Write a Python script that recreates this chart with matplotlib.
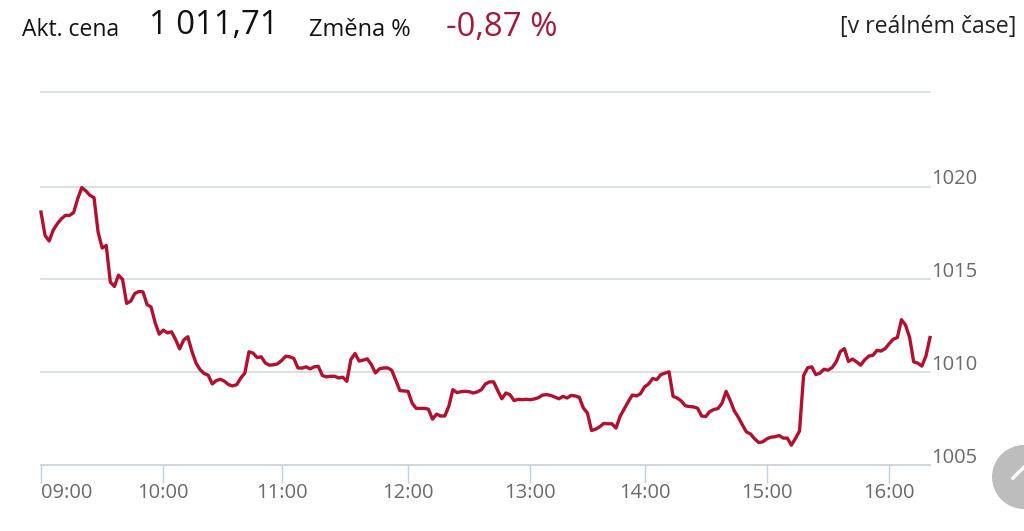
import matplotlib
matplotlib.use('Agg')
import matplotlib.pyplot as plt
from matplotlib.patches import Circle
from matplotlib.transforms import ScaledTranslation
import numpy as np

plt.rcParams['font.family'] = ['Open Sans', 'DejaVu Sans']

# Ceny po hodinach
ceny_rano = [
    1018.63, 1017.37, 1017.07, 1017.66, 1018.00, 1018.27, 1018.45, 1018.45, 1018.60, 1019.35,
    1019.95, 1019.77, 1019.53, 1019.41, 1017.55, 1016.69, 1016.83, 1014.86, 1014.62, 1015.23,
    1015.00, 1013.71, 1013.83, 1014.24, 1014.35, 1014.33, 1013.65, 1013.51, 1012.66, 1012.05,
    1012.27, 1012.12, 1012.18, 1011.76, 1011.26, 1011.74, 1011.91, 1011.13, 1010.50, 1010.14,
    1009.93, 1009.84, 1009.37, 1009.55, 1009.62, 1009.51, 1009.33, 1009.26, 1009.33, 1009.69,
    1009.96, 1011.10, 1011.03, 1010.79, 1010.83, 1010.50, 1010.38, 1010.40, 1010.45, 1010.63,
    1010.86, 1010.83, 1010.74, 1010.23, 1010.22, 1010.29, 1010.18, 1010.29, 1010.32, 1009.82,
    1009.75, 1009.78, 1009.78, 1009.69,
]
ceny_poledne = [
    1009.73, 1009.51, 1010.69, 1011.01, 1010.60, 1010.65, 1010.72, 1010.42, 1009.96, 1010.18,
    1010.23, 1010.23, 1010.11, 1009.57, 1009.01, 1008.99, 1008.97, 1008.34, 1008.05, 1008.05,
    1008.05, 1008.01, 1007.47, 1007.74, 1007.64, 1007.64, 1008.16, 1009.06, 1008.90, 1008.95,
    1008.97, 1008.95, 1008.88, 1008.94, 1009.06, 1009.37, 1009.48, 1009.48, 1009.01, 1008.57,
    1008.88, 1008.79, 1008.47, 1008.54, 1008.52, 1008.54, 1008.52, 1008.56, 1008.63, 1008.77,
    1008.79, 1008.75, 1008.66, 1008.57, 1008.70, 1008.61, 1008.75, 1008.72, 1008.65, 1008.07,
    1007.80, 1006.86, 1006.93, 1007.06, 1007.24, 1007.22, 1007.22, 1006.99, 1007.62, 1008.01,
    1008.41, 1008.77, 1008.72, 1008.84, 1009.21, 1009.37, 1009.66, 1009.60, 1009.87, 1009.95,
    1010.02, 1008.70, 1008.61,
]
ceny_odpoledne = [
    1008.45, 1008.19, 1008.15, 1008.13, 1008.06, 1007.64, 1007.61, 1007.88, 1007.99, 1008.04,
    1008.33, 1008.97, 1008.48, 1007.92, 1007.57, 1007.16, 1006.78, 1006.67, 1006.41, 1006.21,
    1006.25, 1006.41, 1006.50, 1006.52, 1006.59, 1006.45, 1006.45, 1006.07, 1006.43, 1006.83,
    1009.82, 1010.24, 1010.29, 1009.87, 1009.95, 1010.16, 1010.11, 1010.25, 1010.56, 1011.11,
    1011.27, 1010.58, 1010.71, 1010.56, 1010.38, 1010.67, 1010.87, 1010.91, 1011.18, 1011.14,
    1011.27, 1011.54, 1011.78, 1011.87, 1012.83, 1012.54, 1011.87, 1010.56, 1010.49, 1010.33,
    1010.87, 1011.87,
]
ceny = np.array(ceny_rano + ceny_poledne + ceny_odpoledne)

casy = ['09:00', '10:00', '11:00', '12:00', '13:00', '14:00', '15:00', '16:00']
casy_idx = [0, 30, 59, 90, 120, 148, 178, 208]
hladiny = [1005, 1010, 1015, 1020, 1025.1]
hladiny_text = ['1005', '1010', '1015', '1020', '']

W, H = 1024, 531
fig = plt.figure(figsize=(W / 100, H / 100), dpi=100)
ax = fig.add_axes([41 / W, 1 - 465 / H, (930 - 41) / W, (465 - 92) / H])

x = np.arange(len(ceny))
ax.plot(x, ceny, color='#b0112f', linewidth=2.4, solid_joinstyle='round', clip_on=False, zorder=3)

ax.set_xlim(0, len(ceny) - 1)
ax.set_ylim(1005, 1025.1)

for s in ['top', 'left', 'right']:
    ax.spines[s].set_visible(False)
ax.spines['bottom'].set_color('#ccd6dd')
ax.spines['bottom'].set_linewidth(1.2)

ax.set_yticks(hladiny)
ax.set_yticklabels(hladiny_text)
ax.yaxis.tick_right()
ax.grid(axis='y', color='#d6d9d9', linewidth=1.2, clip_on=False)
ax.tick_params(axis='y', length=0, pad=1, labelsize=14.5, labelcolor='#6a6a6a')
posun = ScaledTranslation(0, -2 / 72, fig.dpi_scale_trans)
for t in ax.get_yticklabels():
    t.set_verticalalignment('bottom')
    t.set_transform(t.get_transform() + posun)

ax.set_xticks(casy_idx)
ax.set_xticklabels(casy)
ax.tick_params(axis='x', length=13, width=1, color='#c0d0e0', pad=0, labelsize=14.5, labelcolor='#6a6a6a')
ax.get_xticklabels()[0].set_horizontalalignment('left')

# Hlavicka
fig.text(22 / W, 1 - 30 / H, 'Akt. cena', fontsize=16.5, color='#111111', va='center', ha='left')
fig.text(149 / W, 1 - 26 / H, '1 011,71', fontsize=23.6, color='#111111', va='center', ha='left')
fig.text(309 / W, 1 - 30 / H, 'Změna %', fontsize=17, color='#111111', va='center', ha='left')
fig.text(446 / W, 1 - 27 / H, '-0,87 %', fontsize=23.8, color='#a01c3c', va='center', ha='left')
fig.text(1016 / W, 1 - 27 / H, '[v reálném čase]', fontsize=16.7, color='#222222', va='center', ha='right')

# Sede tlacitko nahoru vpravo dole
fig.add_artist(Circle((10.24, 0.54), 0.32, transform=fig.dpi_scale_trans, color='#bdbdbd', lw=0))
fig.add_artist(plt.Line2D([10.13, 10.24, 10.35], [0.53, 0.64, 0.53], transform=fig.dpi_scale_trans,
                          color='white', linewidth=2.5))

fig.savefig('out.png', dpi=100)
